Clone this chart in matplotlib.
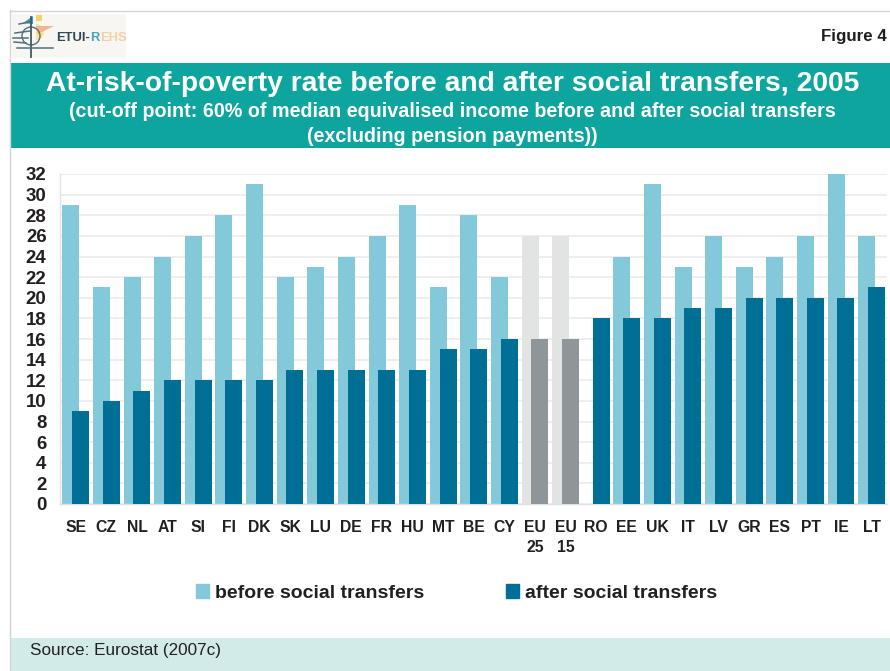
# ETUI poverty rate figure: grouped, overlapping bars with header and source bands
import matplotlib
matplotlib.use('Agg')

import numpy as np
import matplotlib.pyplot as plt
from matplotlib.patches import Rectangle, Circle, Wedge, Polygon

plt.rcParams['font.family'] = ['Liberation Sans', 'DejaVu Sans']

countries = ['SE', 'CZ', 'NL', 'AT', 'SI', 'FI', 'DK', 'SK', 'LU', 'DE', 'FR', 'HU', 'MT', 'BE', 'CY',
             'EU\n25', 'EU\n15', 'RO', 'EE', 'UK', 'IT', 'LV', 'GR', 'ES', 'PT', 'IE', 'LT']
before = [29, 21, 22, 24, 26, 28, 31, 22, 23, 24, 26, 29, 21, 28, 22,
          26, 26, np.nan, 24, 31, 23, 26, 23, 24, 26, 32, 26]
after = [9, 10, 11, 12, 12, 12, 12, 13, 13, 13, 13, 13, 15, 15, 16,
         16, 16, 18, 18, 18, 19, 19, 20, 20, 20, 20, 21]
eu_groups = ['EU\n25', 'EU\n15']
yticks = list(range(0, 33, 2))

W, H = 890, 671
light = '#84c9da'
dark = '#006f95'
light_eu = '#e2e4e3'
dark_eu = '#8e9699'
teal = '#0da59e'
pale = '#d3ebe8'
textcol = '#231f20'

fig = plt.figure(figsize=(W/100, H/100), dpi=100, facecolor='w')

# full figure overlay in pixel coordinates for the frame, bands and logo
bg = fig.add_axes([0, 0, 1, 1])
bg.set_xlim(0, W)
bg.set_ylim(H, 0)
bg.axis('off')

bg.plot([10, 890], [10.5, 10.5], color='#d4d4d4', lw=1)
bg.plot([10, 10], [10, 671], color='#d4d4d4', lw=1)
bg.add_patch(Rectangle((10, 63), 880, 85, color=teal, lw=0))
bg.add_patch(Rectangle((10, 638), 880, 33, color=pale, lw=0))

bg.text(453, 84, 'At-risk-of-poverty rate before and after social transfers, 2005',
        color='w', fontsize=20.3, fontweight='bold', ha='center', va='center')
bg.text(452.5, 111.5, '(cut-off point: 60% of median equivalised income before and after social transfers',
        color='w', fontsize=14.2, fontweight='bold', ha='center', va='center')
bg.text(452.5, 137, '(excluding pension payments))',
        color='w', fontsize=14.2, fontweight='bold', ha='center', va='center')
bg.text(887, 37, 'Figure 4', color=textcol, fontsize=12.2, fontweight='bold', ha='right', va='center')
bg.text(30, 651, 'Source: Eurostat (2007c)', color=textcol, fontsize=12.3, ha='left', va='center')

# logo
bg.add_patch(Rectangle((12, 14), 114, 44, color='#f8f6f2', lw=0))
bg.add_patch(Wedge((36, 32), 8, -90, 90, color='#f6e58e', lw=0))
bg.add_patch(Polygon([[36, 26], [54, 26], [38, 34]], color='#f6b48a', lw=0))
bg.add_patch(Circle((31, 36), 9, fill=False, ec='#53707d', lw=1))
bg.plot([31, 31], [17, 57], color='#3f5a68', lw=1.3)
for y0, y1, x0, x1 in [(24, 22, 19, 30), (33, 31, 15, 30), (38, 38, 13, 28), (42, 43, 14, 26), (48, 48, 17, 53)]:
    bg.plot([x0, x1], [y0, y1], color='#53707d', lw=1.1)
bg.add_patch(Rectangle((36, 15), 6, 6, color='#f3d46a', lw=0))
bg.add_patch(Polygon([[23, 23], [33, 16], [33, 24]], color='#3b9fb0', lw=0))
bg.text(56, 38, 'ETUI-', color='#2f4a55', fontsize=9.4, fontweight='bold', ha='left', va='center')
bg.text(90, 38, 'R', color='#45a5c0', fontsize=9.4, fontweight='bold', ha='left', va='center')
bg.text(100.5, 38, 'EHS', color='#f5cfa8', fontsize=9.4, fontweight='bold', ha='left', va='center')

# chart axes
ax = fig.add_axes([60.5/W, 1-504/H, (887-60.5)/W, (504-174)/H])
ax.patch.set_alpha(0)

x = np.arange(len(countries))
width = 0.555
before_colors = [light_eu if c in eu_groups else light for c in countries]
after_colors = [dark_eu if c in eu_groups else dark for c in countries]
ax.bar(x-0.16, before, width, color=before_colors, zorder=2, label='before social transfers')
ax.bar(x+0.16, after, width, color=after_colors, zorder=3, label='after social transfers')

ax.set_xlim(-0.5, len(countries)-0.5)
ax.set_ylim(0, 32)
ax.set_yticks(yticks)
ax.set_xticks(x)
ax.set_xticklabels(countries, fontsize=11.3, fontweight='bold', color=textcol, linespacing=1.4, va='top')
ax.tick_params(axis='x', length=0, pad=11.5)
ax.tick_params(axis='y', length=0, pad=10, labelsize=13.4, labelcolor=textcol)
for lab in ax.get_yticklabels():
    lab.set_fontweight('bold')
ax.grid(axis='y', color='#ebebeb', lw=1.2, zorder=0)
ax.set_axisbelow(True)
for s in ['top', 'right']:
    ax.spines[s].set_visible(False)
for s in ['left', 'bottom']:
    ax.spines[s].set_color('#e2e2e2')
    ax.spines[s].set_linewidth(1)

# legend built from the two series colours
handles = [Rectangle((0, 0), 1, 1, color=light), Rectangle((0, 0), 1, 1, color=dark)]
fig.legend(handles, ['before social transfers', 'after social transfers'],
           loc='center', bbox_to_anchor=(456.5/W, 1-593/H), ncol=2, frameon=False,
           prop={'size': 14, 'weight': 'bold'}, labelcolor=textcol,
           handlelength=0.67, handleheight=0.67, handletextpad=0.3, columnspacing=4.2)

plt.savefig('out.png', dpi=100)
